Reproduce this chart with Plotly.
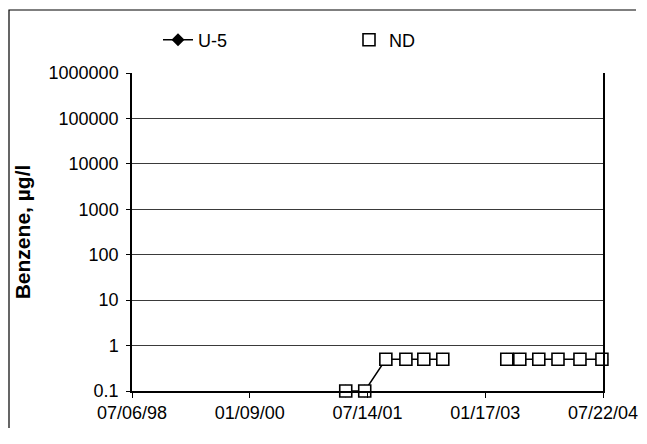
import plotly.graph_objects as go

# Data
dates = ["2001-04-03", "2001-07-01", "2001-10-08", "2002-01-10", "2002-04-04", "2002-07-02",
         "2003-04-28", "2003-06-28", "2003-09-25", "2003-12-24", "2004-04-05", "2004-07-17"]
nd_values = [0.1, 0.1, 0.5, 0.5, 0.5, 0.5, 0.5, 0.5, 0.5, 0.5, 0.5, 0.5]
# U-5 series (line) - gap between sampling groups
u5_dates = dates[:6] + ["2002-10-15"] + dates[6:]
u5_values = nd_values[:6] + [None] + nd_values[6:]

x_tickvals = ["1998-07-06", "2000-01-09", "2001-07-14", "2003-01-17", "2004-07-22"]
x_ticktext = ["07/06/98", "01/09/00", "07/14/01", "01/17/03", "07/22/04"]
y_tickvals = [0.1, 1, 10, 100, 1000, 10000, 100000, 1000000]
y_ticktext = ["0.1", "1", "10", "100", "1000", "10000", "100000", "1000000"]

FONT = "Liberation Sans, Arial, sans-serif"

fig = go.Figure()
fig.add_trace(go.Scatter(
    x=u5_dates, y=u5_values, name="U-5", mode="lines+markers",
    line=dict(color="black", width=1.5),
    marker=dict(symbol="diamond", size=10, color="black"),
    connectgaps=False, cliponaxis=False, legend="legend",
))
fig.add_trace(go.Scatter(
    x=dates, y=nd_values, name="ND", mode="markers",
    marker=dict(symbol="square", size=12, color="white",
                line=dict(color="black", width=1.6)),
    cliponaxis=False, legend="legend2",
))

# page is offset by 8px body margin
OFF = 8
W, H = 636, 420
L, T = 132 - OFF, 73 - OFF
R = W - (603 - OFF)
B = H - (391 - OFF)
pw, ph = W - L - R, H - T - B

def px(xp):
    return (xp - OFF - L) / pw

def py(yp):
    return (H - B - (yp - OFF)) / ph

legend_common = dict(orientation="h", xanchor="left", yanchor="middle",
                     font=dict(family=FONT, size=18, color="black"),
                     bgcolor="rgba(0,0,0,0)")

frame_path = "M {x0},{yb} L {x0},{yt} L {x1},{yt}".format(
    x0=px(9), yb=py(OFF + H), yt=py(10), x1=px(636))

fig.update_layout(
    width=W, height=H,
    margin=dict(l=L, r=R, t=T, b=B, autoexpand=False),
    paper_bgcolor="white", plot_bgcolor="white",
    font=dict(family=FONT, size=18, color="black"),
    showlegend=True,
    legend=dict(x=px(158), y=py(40), **legend_common),
    legend2=dict(x=px(349), y=py(40), **legend_common),
    xaxis=dict(
        type="date", range=["1998-07-06", "2004-07-22"], automargin=False,
        tickmode="array", tickvals=x_tickvals, ticktext=x_ticktext,
        showgrid=False, showline=True, linecolor="black", linewidth=1.5,
        ticks="outside", ticklen=5, tickcolor="black", zeroline=False,
        tickfont=dict(family=FONT, size=18, color="black"),
    ),
    yaxis=dict(
        type="log", range=[-1, 6], automargin=False,
        tickmode="array", tickvals=y_tickvals, ticktext=y_ticktext,
        showgrid=True, gridcolor="#3a3a3a", gridwidth=1,
        showline=True, linecolor="black", linewidth=1.5, mirror=True,
        ticks="outside", ticklen=4, tickcolor="black", ticklabelstandoff=4,
        tickfont=dict(family=FONT, size=18, color="black"),
        title=dict(text="<b>Benzene, µg/l</b>", standoff=12,
                   font=dict(family=FONT, size=21, color="black")),
    ),
    shapes=[
        dict(type="path", xref="paper", yref="paper", path=frame_path,
             line=dict(color="black", width=1.2)),
    ],
)

fig.write_html("out.html")
